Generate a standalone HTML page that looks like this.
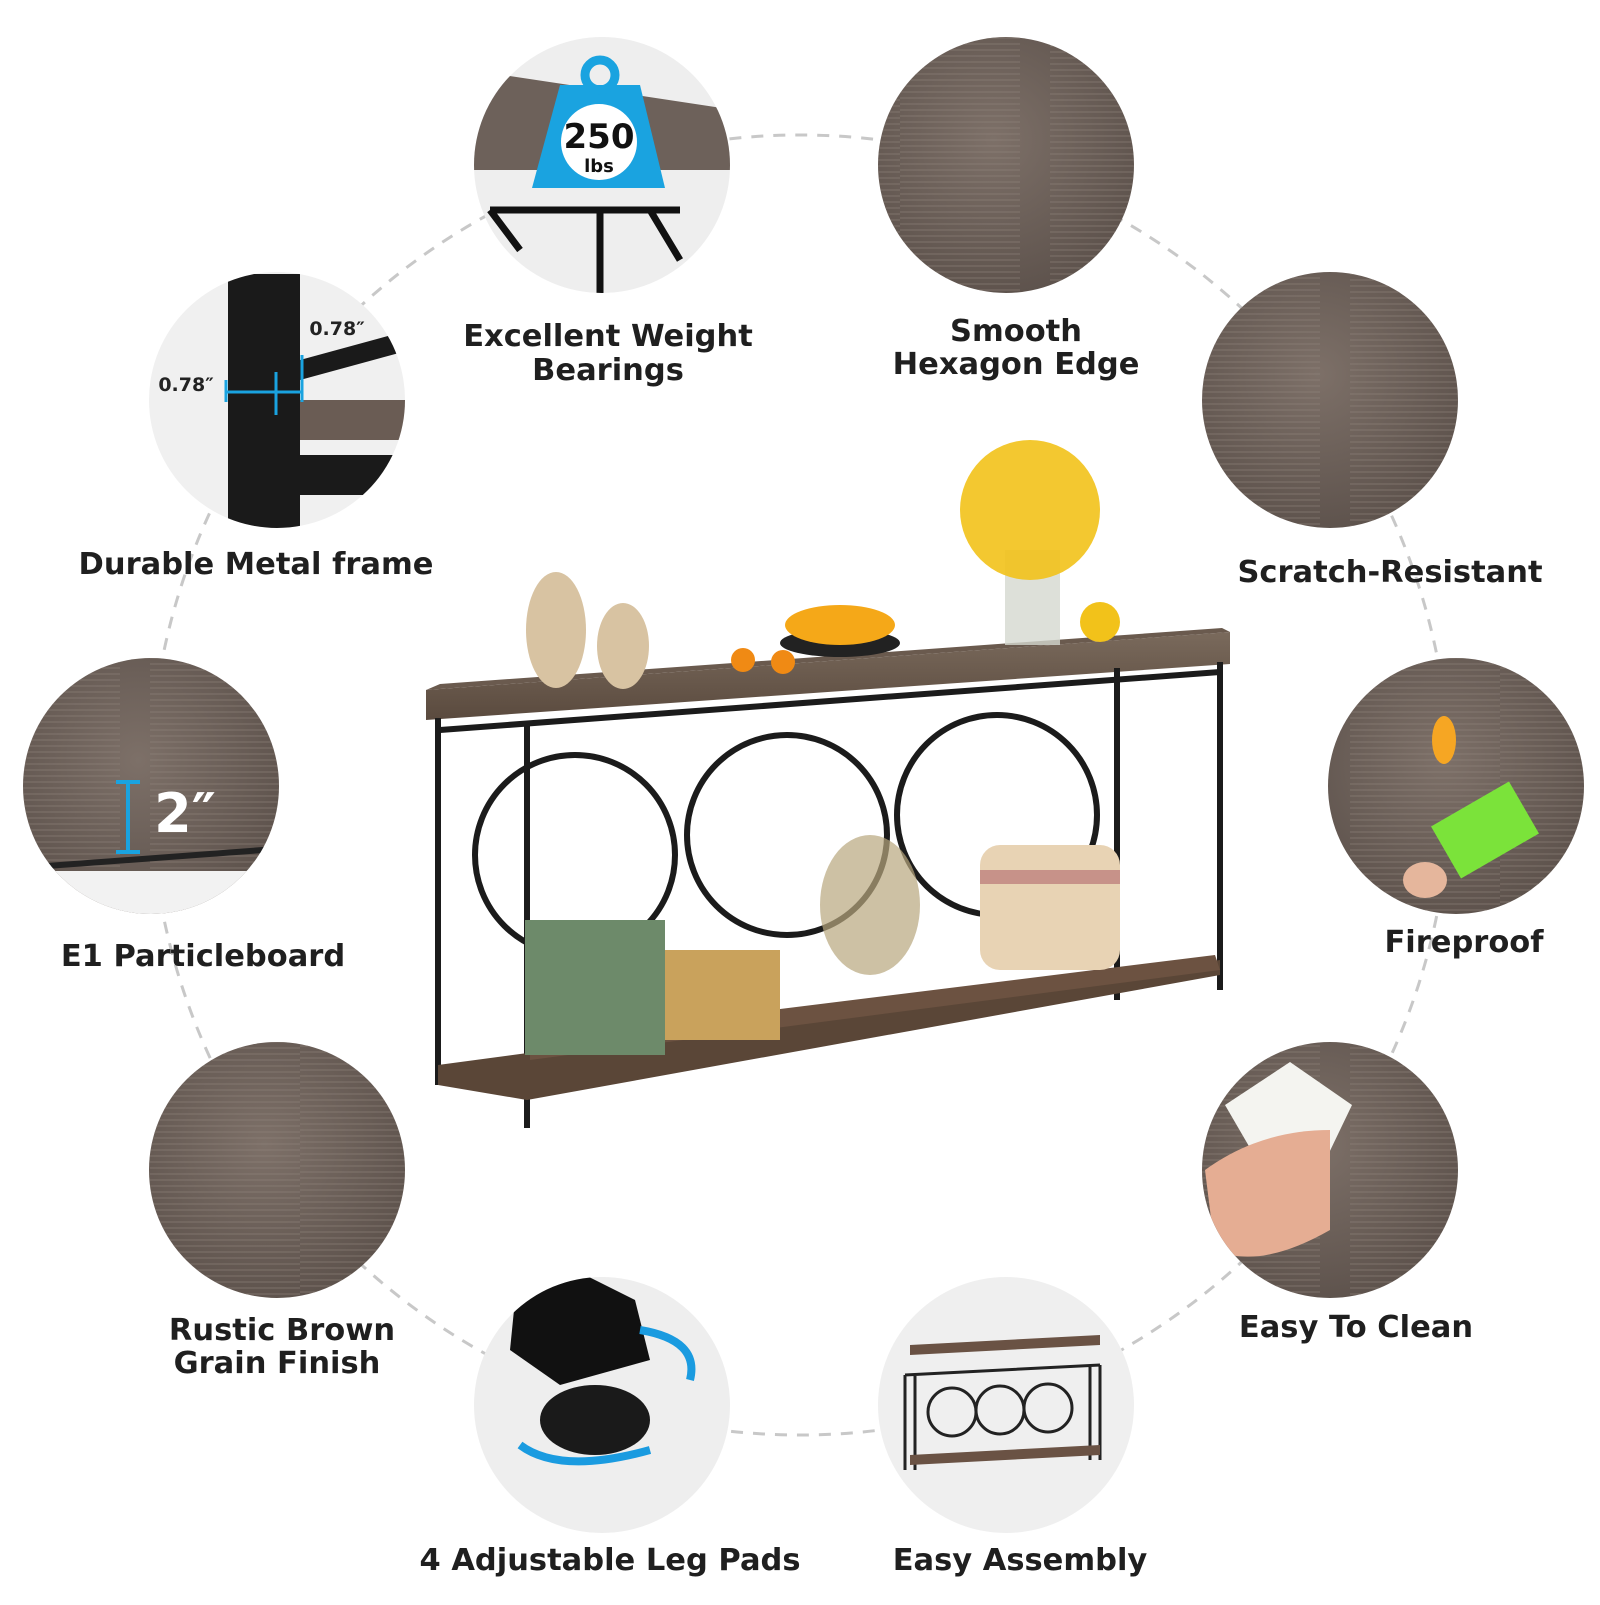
<!DOCTYPE html>
<html><head><meta charset="utf-8"><style>
html,body{margin:0;padding:0;background:#fff;}
.lbl{font-family:"DejaVu Sans","Liberation Sans",sans-serif;font-weight:bold;font-size:30.5px;fill:#1f1f1f;text-anchor:middle;}
</style></head><body>
<svg width="1600" height="1600" viewBox="0 0 1600 1600" xmlns="http://www.w3.org/2000/svg">
<defs>
<radialGradient id="wood" cx="45%" cy="40%" r="65%">
<stop offset="0" stop-color="#7d7068"/><stop offset="1" stop-color="#5c514b"/>
</radialGradient>
<pattern id="grain" width="300" height="6" patternUnits="userSpaceOnUse">
<path d="M0 2 H120 M150 4 H300" stroke="#8f837b" stroke-width="1" opacity="0.6"/>
</pattern>
<linearGradient id="top" x1="0" y1="0" x2="0" y2="1"><stop offset="0" stop-color="#7a6a5c"/><stop offset="1" stop-color="#5a4a3e"/></linearGradient>
<clipPath id="c1"><circle cx="602" cy="165" r="128"/></clipPath>
<clipPath id="c3"><circle cx="277" cy="400" r="128"/></clipPath>
<clipPath id="c5"><circle cx="151" cy="786" r="128"/></clipPath>
<clipPath id="c6"><circle cx="1456" cy="786" r="128"/></clipPath>
<clipPath id="c8"><circle cx="1330" cy="1170" r="128"/></clipPath>
<clipPath id="c9"><circle cx="602" cy="1405" r="128"/></clipPath>
<clipPath id="c10"><circle cx="1006" cy="1405" r="128"/></clipPath>
</defs>
<circle cx="800" cy="785" r="650" fill="none" stroke="#c8c8c8" stroke-width="3" stroke-dasharray="12 10"/>
<circle cx="602" cy="165" r="128" fill="#eeeeee"/>
<circle cx="1006" cy="165" r="128" fill="url(#wood)"/><circle cx="1006" cy="165" r="128" fill="url(#grain)"/>
<circle cx="277" cy="400" r="128" fill="#f0f0f0"/>
<circle cx="1330" cy="400" r="128" fill="url(#wood)"/><circle cx="1330" cy="400" r="128" fill="url(#grain)"/>
<circle cx="151" cy="786" r="128" fill="url(#wood)"/><circle cx="151" cy="786" r="128" fill="url(#grain)"/>
<circle cx="1456" cy="786" r="128" fill="url(#wood)"/><circle cx="1456" cy="786" r="128" fill="url(#grain)"/>
<circle cx="277" cy="1170" r="128" fill="url(#wood)"/><circle cx="277" cy="1170" r="128" fill="url(#grain)"/>
<circle cx="1330" cy="1170" r="128" fill="url(#wood)"/><circle cx="1330" cy="1170" r="128" fill="url(#grain)"/>
<circle cx="602" cy="1405" r="128" fill="#eeeeee"/>
<circle cx="1006" cy="1405" r="128" fill="#efefef"/>
<!-- weight circle -->
<g clip-path="url(#c1)">
<path d="M470 70 L735 110 L735 170 L470 170 Z" fill="#6d615a"/>
<path d="M490 210 L680 210 M600 210 V295 M650 210 L680 260 M490 210 L520 250" stroke="#111" stroke-width="7" fill="none"/>
</g>
<path d="M560 85 L640 85 L665 188 L532 188 Z" fill="#1aa3e0"/>
<circle cx="600" cy="75" r="15" fill="none" stroke="#1aa3e0" stroke-width="9"/>
<circle cx="599" cy="142" r="38" fill="#fff"/>
<text x="599" y="148" font-family="DejaVu Sans" font-weight="bold" font-size="34" text-anchor="middle" fill="#111">250</text>
<text x="599" y="172" font-family="DejaVu Sans" font-weight="bold" font-size="18" text-anchor="middle" fill="#111">lbs</text>
<!-- metal frame -->
<g clip-path="url(#c3)">
<rect x="228" y="274" width="72" height="260" fill="#1a1a1a"/>
<polygon points="300,360 410,330 410,350 300,380" fill="#1a1a1a"/>
<rect x="300" y="400" width="110" height="40" fill="#6a5c54"/>
<rect x="280" y="455" width="130" height="40" fill="#1a1a1a"/>
</g>
<text x="186" y="391" font-family="DejaVu Sans" font-weight="bold" font-size="19" fill="#222" text-anchor="middle">0.78″</text>
<text x="337" y="335" font-family="DejaVu Sans" font-weight="bold" font-size="19" fill="#222" text-anchor="middle">0.78″</text>
<path d="M226 392 H302 M276 372 V415 M226 380 V402 M302 355 V402" stroke="#1aa3e0" stroke-width="3"/>
<!-- particleboard -->
<g clip-path="url(#c5)"><path d="M20 868 L290 848" stroke="#222" stroke-width="6"/><rect x="20" y="871" width="270" height="50" fill="#f2f2f2"/></g>
<path d="M128 782 V852 M116 782 H140 M116 852 H140" stroke="#1aa3e0" stroke-width="4"/>
<text x="185" y="832" font-family="DejaVu Sans" font-weight="bold" font-size="54" fill="#fff" text-anchor="middle">2″</text>
<!-- fire -->
<g clip-path="url(#c6)">
<ellipse cx="1444" cy="740" rx="12" ry="24" fill="#f6a623"/>
<rect x="1440" y="800" width="90" height="60" fill="#7be33a" transform="rotate(-30 1485 830)"/>
<ellipse cx="1425" cy="880" rx="22" ry="18" fill="#e5b69c"/>
</g>
<!-- clean -->
<g clip-path="url(#c8)">
<polygon points="1225,1105 1290,1062 1352,1105 1328,1155 1250,1148" fill="#f4f4f0"/>
<path d="M1205 1170 Q1260 1130 1330 1130 L1330 1230 Q1260 1270 1215 1250 Z" fill="#e5ad93"/>
</g>
<!-- leg pad -->
<g clip-path="url(#c9)">
<polygon points="515,1300 585,1275 635,1300 650,1360 560,1385 510,1350" fill="#111"/>
<ellipse cx="595" cy="1420" rx="55" ry="35" fill="#1a1a1a"/>
<path d="M520 1445 Q560 1475 650 1450 M690 1380 Q700 1340 640 1330" stroke="#1a9be0" stroke-width="8" fill="none"/>
</g>
<!-- assembly -->
<g clip-path="url(#c10)">
<g stroke="#222" stroke-width="3" fill="none">
<path d="M905 1375 V1470 M915 1375 V1470 M1090 1365 V1460 M1100 1365 V1460 M905 1375 L1100 1365"/>
<circle cx="952" cy="1412" r="24"/><circle cx="1000" cy="1410" r="24"/><circle cx="1048" cy="1408" r="24"/>
</g>
<polygon points="910,1345 1100,1335 1100,1345 910,1355" fill="#6a5244"/>
<polygon points="910,1455 1100,1445 1100,1455 910,1465" fill="#6a5244"/>
</g>
<!-- labels -->
<text class="lbl" x="608" y="346">Excellent Weight</text>
<text class="lbl" x="608" y="380">Bearings</text>
<text class="lbl" x="1016" y="341">Smooth</text>
<text class="lbl" x="1016" y="374">Hexagon Edge</text>
<text class="lbl" x="256" y="574">Durable Metal frame</text>
<text class="lbl" x="1390" y="582">Scratch-Resistant</text>
<text class="lbl" x="203" y="966">E1 Particleboard</text>
<text class="lbl" x="1464" y="952">Fireproof</text>
<text class="lbl" x="282" y="1340">Rustic Brown</text>
<text class="lbl" x="277" y="1373">Grain Finish</text>
<text class="lbl" x="1356" y="1337">Easy To Clean</text>
<text class="lbl" x="610" y="1570">4 Adjustable Leg Pads</text>
<text class="lbl" x="1020" y="1570">Easy Assembly</text>
<!-- table -->
<g>
<polygon points="426,690 1230,632 1230,664 426,720" fill="url(#top)"/>
<polygon points="426,690 1230,632 1222,628 440,684" fill="#6a5a4e"/>
<g stroke="#1b1b1b" stroke-width="6" fill="none">
<path d="M438 718 V1085 M527 722 V1128 M1117 668 V1000 M1220 662 V990"/>
<path d="M440 730 L1220 672"/>
<circle cx="575" cy="855" r="100"/><circle cx="787" cy="835" r="100"/><circle cx="997" cy="815" r="100"/>
</g>
<polygon points="438,1065 1220,960 1220,975 527,1100 438,1085" fill="#5a4637"/>
<polygon points="530,1040 1215,955 1220,970 530,1060" fill="#6c5241"/>
<ellipse cx="556" cy="630" rx="30" ry="58" fill="#d8c3a2"/>
<ellipse cx="623" cy="646" rx="26" ry="43" fill="#d8c3a2"/>
<ellipse cx="840" cy="643" rx="60" ry="14" fill="#222"/>
<ellipse cx="840" cy="625" rx="55" ry="20" fill="#f5a818"/>
<circle cx="743" cy="660" r="12" fill="#f08a14"/><circle cx="783" cy="662" r="12" fill="#f08a14"/>
<rect x="1005" y="550" width="55" height="95" fill="#d5d8cf" opacity="0.8"/>
<circle cx="1030" cy="510" r="70" fill="#f2c21a" opacity="0.9"/>
<circle cx="1100" cy="622" r="20" fill="#f2c21a"/>
<rect x="525" y="920" width="140" height="135" fill="#6d8a6a"/>
<rect x="665" y="950" width="115" height="90" fill="#c9a25c"/>
<ellipse cx="870" cy="905" rx="50" ry="70" fill="#b8a67d" opacity="0.7"/>
<rect x="980" y="845" width="140" height="125" rx="20" fill="#e8d3b4"/>
<rect x="980" y="870" width="140" height="14" fill="#c79289"/>
</g>
</svg>
</body></html>
